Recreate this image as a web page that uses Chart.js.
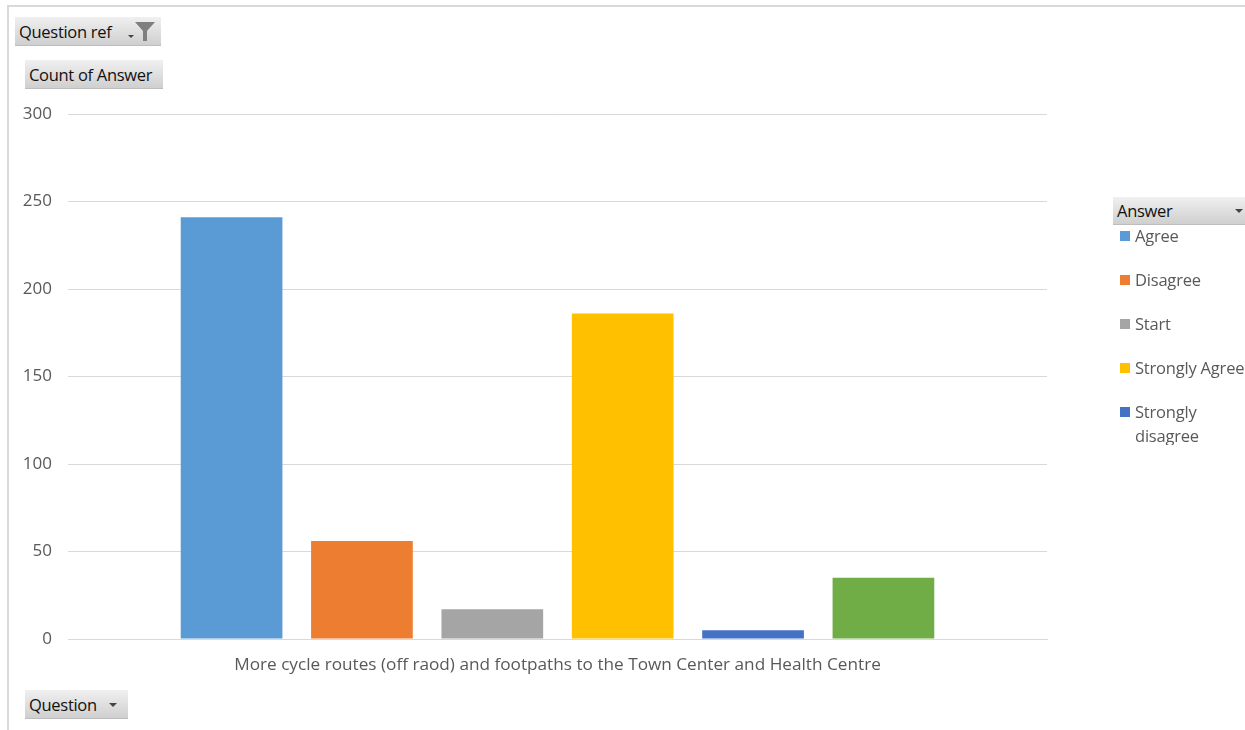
<!DOCTYPE html>
<html>
<head>
<meta charset="utf-8">
<script src="https://cdn.jsdelivr.net/npm/chart.js@4/dist/chart.umd.min.js"></script>
<style>
  html, body { margin: 0; padding: 0; background: #fff; }
  body { width: 1245px; height: 730px; position: relative; overflow: hidden; font-family: "Open Sans", "Noto Sans", sans-serif; }
  #frame { position: absolute; left: 7px; top: 5px; width: 1300px; height: 800px; border-left: 2px solid #d9d9d9; border-top: 2px solid #d9d9d9; }
  #wrap { position: absolute; left: 0; top: 0; width: 1245px; height: 730px; }
  .btn { position: absolute; height: 29px; line-height: 29px; font-size: 16.5px; color: #111;
         background: linear-gradient(#f0f0f0, #cfcfcf); box-sizing: border-box; padding-left: 4px;
         border-bottom: 1px solid #bdbdbd; white-space: nowrap; letter-spacing: -0.3px; }
  .arrow { position: absolute; width: 0; height: 0; border-left: 4px solid transparent; border-right: 4px solid transparent; border-top: 4px solid #444; }
  #legend { position: absolute; left: 1113px; top: 197px; width: 200px; height: 248px; overflow: hidden; }
  #legend .item { position: absolute; left: 7px; width: 190px; font-size: 16.5px; color: #595959; line-height: 24px; letter-spacing: -0.2px; }
  #legend .sw { position: absolute; left: 0; top: 7px; width: 10px; height: 10px; }
  #legend .txt { display: block; position: absolute; left: 15px; top: 0; width: 128px; }
</style>
</head>
<body>
<div id="frame"></div>
<div id="wrap"><canvas id="chart" width="1245" height="730"></canvas></div>

<div class="btn" style="left:15px; top:17px; width:146px;">Question ref
  <span class="arrow" style="left:113px; top:18px; border-width:3px 3px 3px 3px; border-left-color:transparent; border-right-color:transparent;"></span>
  <svg style="position:absolute; left:120px; top:5px;" width="20" height="19" viewBox="0 0 20 19"><path d="M0 0 H20 L12 9 V19 H8 V9 Z" fill="#7f7f7f"/></svg>
</div>
<div class="btn" style="left:25px; top:60px; width:138px;">Count of Answer</div>
<div class="btn" style="left:25px; top:690px; width:103px;">Question
  <span class="arrow" style="left:84px; top:13px;"></span>
</div>

<div id="legend">
  <div class="btn" style="left:0; top:0; width:140px; height:28px; line-height:28px;">Answer
    <span class="arrow" style="left:122px; top:12px;"></span>
  </div>
</div>

<script>
// pivot: count of answers per answer type, single question
const categories = ['More cycle routes (off raod) and footpaths to the Town Center and Health Centre'];
const answers = ['Agree', 'Disagree', 'Start', 'Strongly Agree', 'Strongly disagree', 'Neutral'];
const counts = [241, 56, 17, 186, 5, 35];
const colors = ['#5B9BD5', '#ED7D31', '#A5A5A5', '#FFC000', '#4472C4', '#70AD47'];
const yTicks = [0, 50, 100, 150, 200, 250, 300];

// legend (excel pivot legend, clipped by the chart edge)
const legend = document.getElementById('legend');
answers.forEach((name, i) => {
  const item = document.createElement('div');
  item.className = 'item';
  item.style.top = (27 + i * 44) + 'px';
  item.innerHTML = '<span class="sw" style="background:' + colors[i] + '"></span><span class="txt">' + name + '</span>';
  legend.appendChild(item);
});

const ctx = document.getElementById('chart').getContext('2d');
new Chart(ctx, {
  type: 'bar',
  data: {
    labels: categories,
    datasets: answers.map((name, i) => ({
      label: name,
      data: [counts[i]],
      backgroundColor: colors[i],
      borderWidth: 0
    }))
  },
  options: {
    responsive: false,
    animation: false,
    categoryPercentage: 0.799,
    barPercentage: 0.78,
    layout: { padding: { top: 114, right: 198, bottom: 0, left: 0 } },
    plugins: { legend: { display: false }, tooltip: { enabled: false } },
    scales: {
      x: {
        grid: { display: false, drawTicks: false },
        border: { color: '#d9d9d9', width: 1 },
        ticks: { color: '#595959', font: { family: 'Open Sans', size: 17.2 }, padding: 16 },
        afterFit: s => { s.height = 91; }
      },
      y: {
        min: 0,
        max: 300,
        afterBuildTicks: s => { s.ticks = yTicks.map(v => ({ value: v })); },
        grid: { color: '#d9d9d9', lineWidth: 1, drawTicks: false },
        border: { display: false },
        ticks: { color: '#595959', font: { family: 'Open Sans', size: 17 }, padding: 16 },
        afterFit: s => { s.width = 68; }
      }
    }
  }
});
</script>
</body>
</html>
